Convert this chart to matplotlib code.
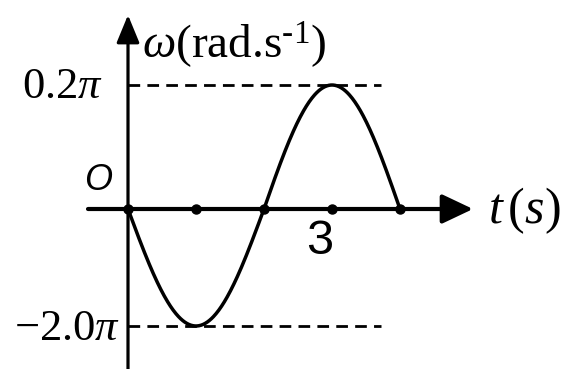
import numpy as np
import matplotlib
matplotlib.use("Agg")
import matplotlib.pyplot as plt
from matplotlib.patches import FancyArrowPatch

plt.rcParams["mathtext.fontset"] = "custom"
plt.rcParams["mathtext.rm"] = "Liberation Serif"
plt.rcParams["mathtext.it"] = "Liberation Serif:italic"
plt.rcParams["font.family"] = ["Liberation Serif", "DejaVu Serif"]

# angular velocity vs time: one negative half-wave, then one positive half-wave
half_starts = [0.0, 2.0]          # s
half_ends = [2.0, 4.0]            # s
half_amps = [-2.0 * np.pi, 0.2 * np.pi]   # rad/s
tick_times = [0, 1, 2, 3, 4]      # s
ref_levels = [0.2 * np.pi, -2.0 * np.pi]
ref_labels = [r"$0.2\pi$", r"$-2.0\pi$"]

# negative side compressed so both half-waves show at similar height
K_NEG = (117 / 124) * 0.1
def fwd(y):
    y = np.asarray(y, dtype=float)
    return np.where(y >= 0, y, y * K_NEG)
def inv(u):
    u = np.asarray(u, dtype=float)
    return np.where(u >= 0, u, u / K_NEG)

fig = plt.figure(figsize=(5.66, 3.69), dpi=100)
ax = fig.add_axes([0, 0, 1, 1])
ax.set_yscale("function", functions=(fwd, inv))
PX_T = 68.0
ax.set_xlim(-128 / PX_T, 438 / PX_T)
ax.set_ylim(-160 * np.pi / 620 / K_NEG, 209 * np.pi / 620)
ax.axis("off")

# axes with arrow heads
x_end = 345 / PX_T
x_arrow = FancyArrowPatch((-40 / PX_T, 0), (x_end, 0), arrowstyle="-|>,head_length=0.95,head_width=0.45",
                          mutation_scale=20, lw=3.0, color="black", shrinkA=0, shrinkB=0, zorder=4)
ax.add_patch(x_arrow)
y_top = 194 * np.pi / 620
y_arrow = FancyArrowPatch((0, ax.get_ylim()[0]), (0, y_top), arrowstyle="-|>,head_length=0.85,head_width=0.35",
                          mutation_scale=20, lw=2.3, color="black", shrinkA=0, shrinkB=0, zorder=4)
ax.add_patch(y_arrow)

# dashed reference levels
for lev in ref_levels:
    ax.plot([0, 3.72], [lev, lev], color="black", lw=2.0, ls=(0, (4.2, 2.6)), zorder=2)

# the curve
for t0, t1, amp in zip(half_starts, half_ends, half_amps):
    t = np.linspace(t0, t1, 200)
    ax.plot(t, amp * np.sin(np.pi * (t - t0) / (t1 - t0)), color="black", lw=2.5,
            solid_capstyle="round", zorder=3)

ax.plot(tick_times, np.zeros(len(tick_times)), "o", color="black", ms=6.5, zorder=5)

# labels
ax.annotate(ref_labels[0], xy=(0, ref_levels[0]), xytext=(-25, -2), textcoords="offset pixels",
            ha="right", va="center", fontsize=32)
ax.annotate(ref_labels[1], xy=(0, ref_levels[1]), xytext=(-8, -3), textcoords="offset pixels",
            ha="right", va="center", fontsize=32)
ax.annotate(r"$\omega$(rad.s$^{\mathrm{\text{-}}1}$)", xy=(0, y_top), xytext=(14, -30),
            textcoords="offset pixels", ha="left", va="center", fontsize=34)
ax.annotate(r"$t\,(s)$", xy=(x_end, 0), xytext=(15, -2), textcoords="offset pixels",
            ha="left", va="center", fontsize=36)
ax.annotate("3", xy=(3, 0), xytext=(-12, -33), textcoords="offset pixels",
            ha="center", va="center", fontsize=35, family="Liberation Sans")
ax.annotate("O", xy=(0, 0), xytext=(-30, 29), textcoords="offset pixels",
            ha="center", va="center", fontsize=26, family="Liberation Sans", style="italic")

fig.savefig("out.png", dpi=100)
